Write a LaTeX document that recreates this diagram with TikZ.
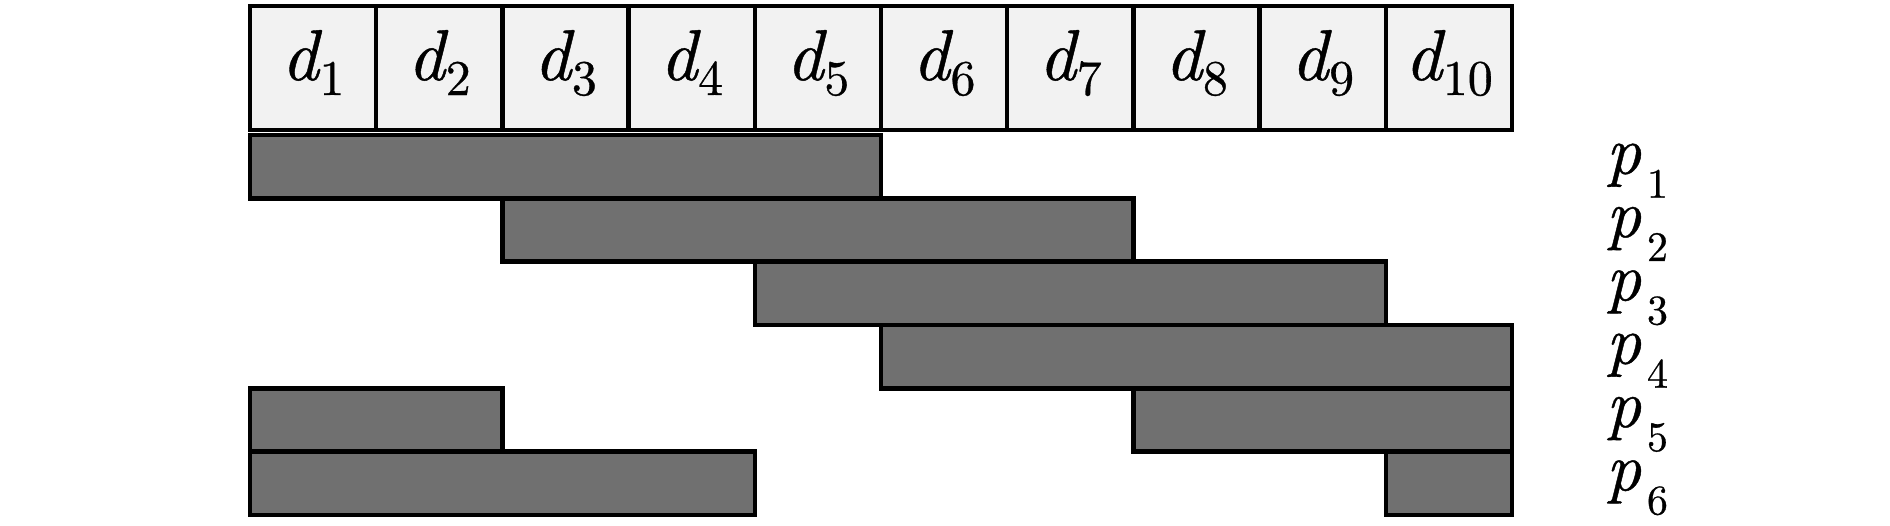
\documentclass[tikz,border=0pt]{standalone}
\usepackage{fontspec}
\newfontfamily\lmit{lmroman10-italic.otf}[FakeBold=0.6]
\newfontfamily\lmrm{lmroman10-regular.otf}[FakeBold=0.6]
\newcommand\dtxt[1]{{\fontsize{72}{72}\lmit d}\kern1pt\raisebox{-15pt}{\fontsize{50}{50}\lmrm #1}}
\newcommand\ptxt[1]{{\fontsize{68}{68}\lmit p}\kern6pt\raisebox{-24pt}{\fontsize{42}{42}\lmrm #1}}
\begin{document}
\begin{tikzpicture}[x=1pt,y=-1pt,
  cell/.style={draw=black,line width=4.5pt,fill=black!5,minimum width=126.2pt,minimum height=124pt,inner sep=0pt,outer sep=0pt,anchor=north west},
  bar/.style={draw=black,line width=4.5pt,fill=black!56},
  dlab/.style={anchor=base,inner sep=0pt},
  plab/.style={anchor=base west,inner sep=0pt}]
\useasboundingbox (0,0) rectangle (1890,525);
% bars
\foreach \s/\e/\r in {1/5/1,3/7/2,5/9/3,6/10/4,1/2/5,8/10/5,1/4/6,10/10/6}{
  \draw[bar] ({250+(\s-1)*126.2},{135+(\r-1)*63.33}) rectangle ({250+\e*126.2},{135+\r*63.33});
}
% cells
\foreach \i in {1,...,10}{
  \node[cell] (d\i) at ({250+(\i-1)*126.2},6) {};
  \node[dlab] (ld\i) at ({250+(\i-0.5)*126.2},80) {\dtxt{\i}};
}
% p labels
\foreach \k in {1,...,6}{
  \node[plab] (p\k) at (1606,{135+(\k-0.5)*63.33+7}) {\ptxt{\k}};
}
\end{tikzpicture}
\end{document}
